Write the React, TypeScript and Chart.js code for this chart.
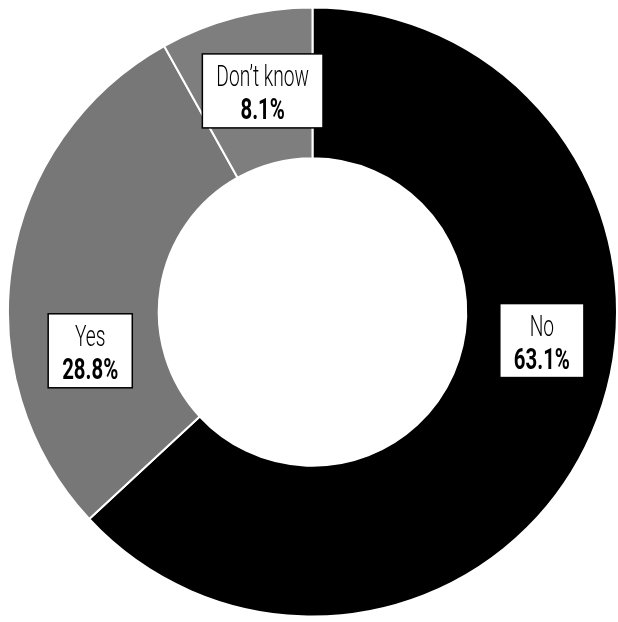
import React, { useEffect, useRef } from "react";
import { Chart, registerables } from "chart.js";

Chart.register(...registerables);

const categories = ["No", "Yes", "Don\u2019t know"];
const values = [63.1, 28.8, 8.1];
const valueLabels = ["63.1%", "28.8%", "8.1%"];
const colors = ["#000000", "#777777", "#7e7e7e"];
// label placement: angle in degrees clockwise from 12 o'clock, radial offset from mid-ring
const labelAngles = [97.1, 260.1, 347.3];
const labelRadiusOffsets = [2, -3.5, -2.5];

const SX_REG = 0.64; // horizontal condensing of label text
const SX_BOLD = 0.68;
const PAD = 14;
const BOX_H = 74;

const boxLabelPlugin = {
  id: "boxLabels",
  afterDatasetsDraw(chart: any) {
    const ctx: CanvasRenderingContext2D = chart.ctx;
    const meta = chart.getDatasetMeta(0);
    meta.data.forEach((arc: any, i: number) => {
      const { x, y, innerRadius, outerRadius } = arc.getProps(
        ["x", "y", "innerRadius", "outerRadius"],
        true
      );
      const r = (innerRadius + outerRadius) / 2 + labelRadiusOffsets[i];
      const a = (labelAngles[i] * Math.PI) / 180;
      const cx = x + r * Math.sin(a);
      const cy = y - r * Math.cos(a);
      const regular = "300 30px Roboto";
      const bold = "bold 30px Roboto";
      ctx.save();
      ctx.font = regular;
      const w1 = ctx.measureText(categories[i]).width * SX_REG;
      ctx.font = bold;
      const w2 = ctx.measureText(valueLabels[i]).width * SX_BOLD;
      const bw = Math.max(w1, w2) + PAD * 2;
      const left = cx - bw / 2;
      const top = cy - BOX_H / 2;
      ctx.fillStyle = "#ffffff";
      ctx.fillRect(left, top, bw, BOX_H);
      ctx.strokeStyle = "#000000";
      ctx.lineWidth = 1.5;
      ctx.strokeRect(left, top, bw, BOX_H);
      ctx.fillStyle = "#000000";
      ctx.textAlign = "center";
      ctx.textBaseline = "alphabetic";
      ctx.font = regular;
      ctx.save();
      ctx.translate(cx, top + 32);
      ctx.scale(SX_REG, 1);
      ctx.fillText(categories[i], 0, 0);
      ctx.restore();
      ctx.font = bold;
      ctx.save();
      ctx.translate(cx, top + 65);
      ctx.scale(SX_BOLD, 1);
      ctx.fillText(valueLabels[i], 0, 0);
      ctx.restore();
      ctx.restore();
    });
  },
};

export default function App() {
  const ref = useRef<HTMLCanvasElement | null>(null);
  useEffect(() => {
    if (!ref.current) return;
    const chart = new Chart(ref.current, {
      type: "doughnut",
      data: {
        labels: categories,
        datasets: [
          {
            data: values,
            backgroundColor: colors,
            borderColor: "#ffffff",
            borderWidth: 2,
            hoverOffset: 0,
          },
        ],
      },
      options: {
        responsive: false,
        animation: false,
        cutout: "50.5%",
        layout: { padding: { left: 7, right: 0, top: 6, bottom: 4 } },
        plugins: {
          legend: { display: false },
          tooltip: { enabled: false },
        },
        events: [],
      },
      plugins: [boxLabelPlugin],
    });
    return () => chart.destroy();
  }, []);
  return (
    <div style={{ position: "fixed", left: 0, top: 0, width: 618, height: 622, background: "#fff" }}>
      <canvas ref={ref} width={618} height={622} style={{ display: "block" }} />
    </div>
  );
}
